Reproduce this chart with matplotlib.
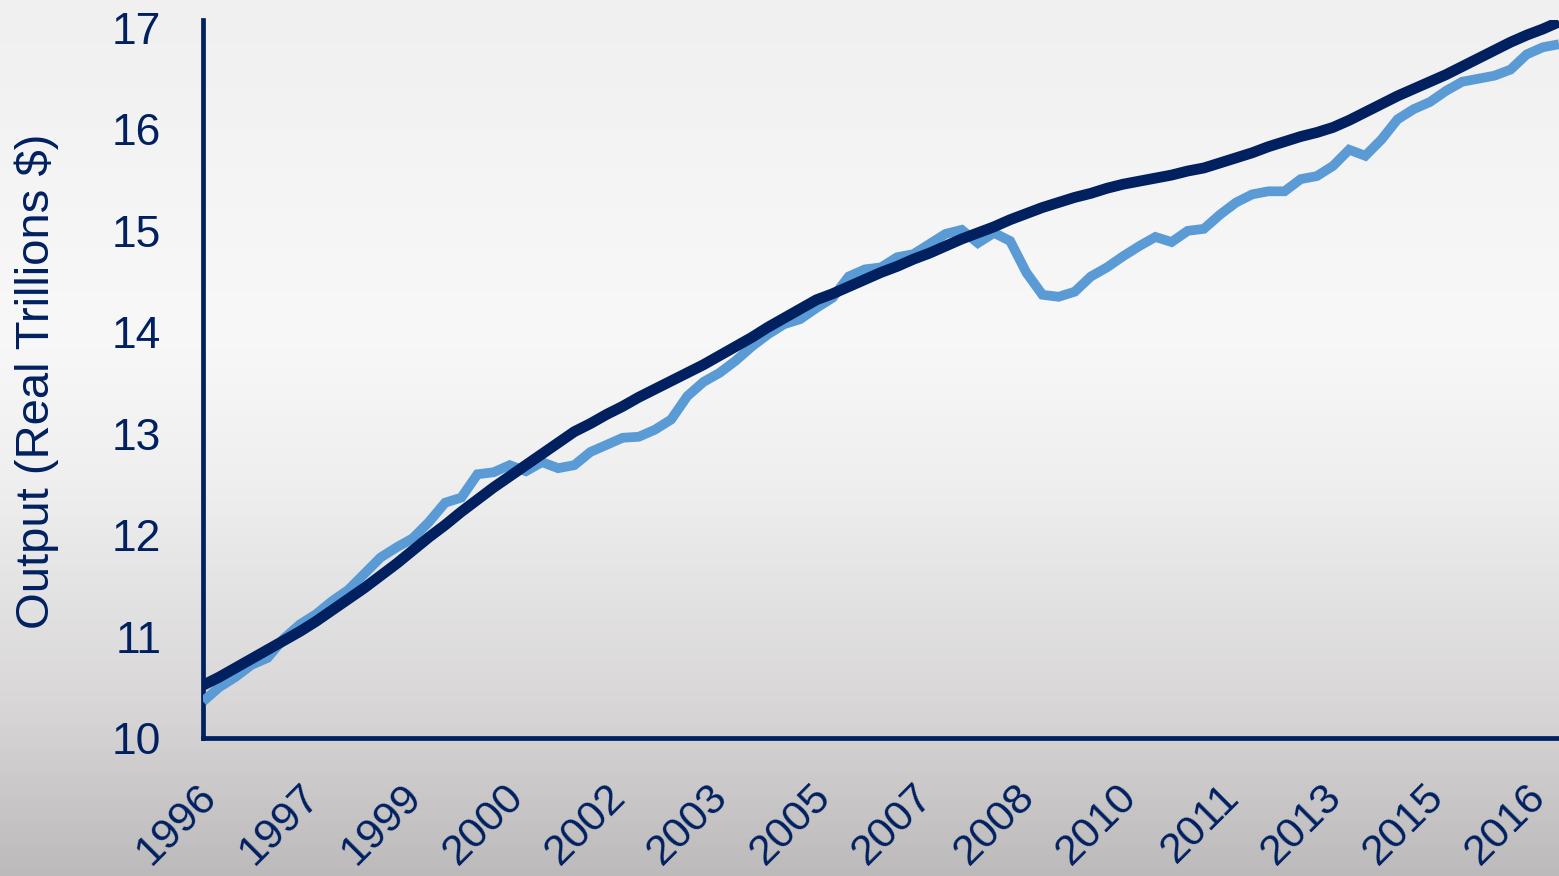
import matplotlib
matplotlib.use("Agg")
import matplotlib.pyplot as plt
import matplotlib.transforms as mtransforms
from matplotlib.colors import LinearSegmentedColormap
import numpy as np

# ── data (quarterly, 1996Q1 .. 2017Q1, real trillions $) ───────────────────
start_year = 1996
actual_output = [
    10.36, 10.50, 10.60, 10.72, 10.79, 10.98, 11.12, 11.22, 11.35, 11.46,
    11.62, 11.78, 11.88, 11.97, 12.13, 12.32, 12.37, 12.60, 12.62, 12.69,
    12.63, 12.72, 12.66, 12.69, 12.82, 12.89, 12.96, 12.97, 13.04, 13.14,
    13.37, 13.51, 13.60, 13.72, 13.86, 13.98, 14.08, 14.13, 14.24, 14.34,
    14.55, 14.62, 14.64, 14.74, 14.77, 14.87, 14.97, 15.01, 14.88, 14.98,
    14.90, 14.59, 14.37, 14.35, 14.40, 14.55, 14.64, 14.75, 14.85, 14.94,
    14.89, 15.00, 15.02, 15.16, 15.28, 15.36, 15.39, 15.39, 15.51, 15.54,
    15.64, 15.80, 15.74, 15.90, 16.10, 16.20, 16.27, 16.38, 16.47, 16.50,
    16.53, 16.59, 16.74, 16.81, 16.84,
]
potential_output = [
    10.52, 10.60, 10.69, 10.78, 10.87, 10.96, 11.05, 11.15, 11.26, 11.37,
    11.48, 11.60, 11.72, 11.85, 11.98, 12.10, 12.23, 12.35, 12.47, 12.58,
    12.69, 12.80, 12.91, 13.02, 13.10, 13.19, 13.27, 13.36, 13.44, 13.52,
    13.60, 13.68, 13.77, 13.86, 13.95, 14.05, 14.14, 14.23, 14.32, 14.38,
    14.45, 14.52, 14.59, 14.65, 14.72, 14.78, 14.85, 14.92, 14.98, 15.04,
    15.11, 15.17, 15.23, 15.28, 15.33, 15.37, 15.42, 15.46, 15.49, 15.52,
    15.55, 15.59, 15.62, 15.67, 15.72, 15.77, 15.83, 15.88, 15.93, 15.97,
    16.02, 16.09, 16.17, 16.25, 16.33, 16.40, 16.47, 16.54, 16.62, 16.70,
    16.78, 16.86, 16.93, 16.99, 17.06,
]
y_ticks = [10, 11, 12, 13, 14, 15, 16, 17]
tick_step_months = 19   # category labels fall every 19 months
n_tick_labels = 14

quarters = start_year + np.arange(len(actual_output)) / 4.0

NAVY = "#002060"
LIGHT = "#5b9bd5"
FONT = "Liberation Sans"

# ── canvas ─────────────────────────────────────────────────────────────────
fig = plt.figure(figsize=(15.59, 8.76), dpi=100)

# background gradient (whole figure)
bg = fig.add_axes([0, 0, 1, 1], zorder=-10)
bg.axis("off")
cmap = LinearSegmentedColormap.from_list(
    "bg", [(0.0, "#f0f0f0"), (0.38, "#f8f8f8"), (0.55, "#efefef"),
           (0.8, "#d9d7d7"), (1.0, "#bcbaba")])
grad = np.linspace(0, 1, 256).reshape(-1, 1)
bg.imshow(grad, aspect="auto", cmap=cmap, extent=[0, 1, 0, 1], origin="upper")

ax = fig.add_axes([203 / 1559, 138 / 876, 1 - 203 / 1559, (738 - 20) / 876])
ax.patch.set_alpha(0)

ax.plot(quarters, actual_output, color=LIGHT, lw=7.0, solid_joinstyle="miter",
        solid_capstyle="butt", zorder=3)
ax.plot(quarters, potential_output, color=NAVY, lw=7.8, solid_joinstyle="miter",
        solid_capstyle="butt", zorder=4)

ax.set_xlim(start_year, quarters[-1])
ax.set_ylim(10, 17 + 8 / 101.4)

for s in ["top", "right"]:
    ax.spines[s].set_visible(False)
for s in ["left", "bottom"]:
    ax.spines[s].set_color(NAVY)
    ax.spines[s].set_linewidth(3.4)

# y axis
ax.set_yticks(y_ticks)
ax.set_yticklabels([str(v) for v in y_ticks], fontsize=32, color=NAVY,
                   family=FONT)
ax.tick_params(axis="y", length=0, pad=30)

# x axis: labels every 19 months
xt = [start_year + k * tick_step_months / 12 for k in range(n_tick_labels)]
ax.set_xticks(xt)
ax.set_xticklabels([str(int(np.floor(v + 1e-9))) for v in xt], rotation=45,
                   ha="right", va="top", fontsize=31, color=NAVY, family=FONT)
ax.tick_params(axis="x", length=0, pad=28)
offset = mtransforms.ScaledTranslation(22 / 100, 0, fig.dpi_scale_trans)
for lbl in ax.get_xticklabels():
    lbl.set_transform(lbl.get_transform() + offset)

fig.text(37 / 1559, 1 - 381 / 876, "Output (Real Trillions $)", rotation=90,
         ha="center", va="center", fontsize=34, color=NAVY, family=FONT)

fig.savefig("out.png", dpi=100)
